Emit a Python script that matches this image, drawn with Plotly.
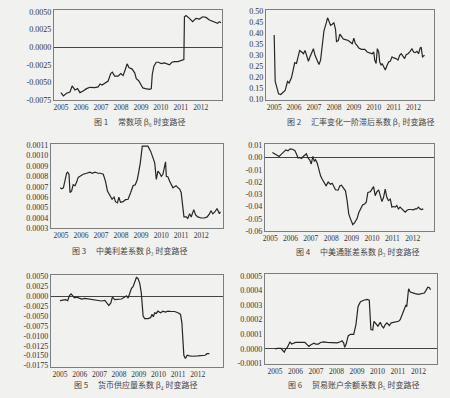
import plotly.graph_objects as go

years = [2005, 2006, 2007, 2008, 2009, 2010, 2011, 2012]
year_labels = [str(y) for y in years]

# Panel 1: constant term beta0
p1_x = [2005.00, 2005.12, 2005.28, 2005.45, 2005.56, 2005.70, 2005.83, 2005.95, 2006.11, 2006.28,
        2006.45, 2006.69, 2006.86, 2006.96, 2007.06, 2007.19, 2007.36, 2007.49, 2007.57, 2007.69,
        2007.86, 2007.99, 2008.11, 2008.22, 2008.31, 2008.41, 2008.55, 2008.69, 2008.77, 2008.89,
        2008.99, 2009.10, 2009.22, 2009.44, 2009.52, 2009.57, 2009.65, 2009.77, 2009.88, 2010.02,
        2010.18, 2010.35, 2010.43, 2010.55, 2010.68, 2010.85, 2011.01, 2011.15, 2011.18, 2011.26,
        2011.43, 2011.59, 2011.76, 2011.93, 2012.09, 2012.26, 2012.43, 2012.67, 2012.84, 2012.92,
        2013.01]
p1_y = [-0.00645, -0.00692, -0.00654, -0.00636, -0.00551, -0.00607, -0.00589, -0.00645, -0.00622, -0.00589,
        -0.00570, -0.00575, -0.00565, -0.00523, -0.00537, -0.00514, -0.00481, -0.00374, -0.00355, -0.00411,
        -0.00411, -0.00374, -0.00402, -0.00318, -0.00238, -0.00294, -0.00308, -0.00364, -0.00449, -0.00477,
        -0.00523, -0.00579, -0.00589, -0.00598, -0.00589, -0.00388, -0.00271, -0.00215, -0.00215, -0.00234,
        -0.00224, -0.00238, -0.00252, -0.00215, -0.00206, -0.00206, -0.00187, -0.00178, 0.00430, 0.00449,
        0.00407, 0.00360, 0.00407, 0.00397, 0.00430, 0.00421, 0.00383, 0.00360, 0.00336, 0.00360,
        0.00346]
p1_ticks = [-0.0075, -0.005, -0.0025, 0.0, 0.0025, 0.005]

# Panel 2: exchange-rate lag coefficient beta1
p2_x = [2005.00, 2005.05, 2005.12, 2005.22, 2005.33, 2005.45, 2005.55, 2005.67, 2005.75, 2005.87,
        2005.97, 2006.03, 2006.12, 2006.22, 2006.28, 2006.38, 2006.47, 2006.55, 2006.63, 2006.72,
        2006.80, 2006.88, 2006.97, 2007.05, 2007.17, 2007.25, 2007.33, 2007.42, 2007.50, 2007.62,
        2007.68, 2007.75, 2007.83, 2007.92, 2008.00, 2008.08, 2008.13, 2008.22, 2008.30, 2008.38,
        2008.47, 2008.58, 2008.72, 2008.83, 2008.92, 2009.00, 2009.08, 2009.17, 2009.25, 2009.38,
        2009.55, 2009.67, 2009.83, 2009.92, 2010.00, 2010.05, 2010.12, 2010.18, 2010.25, 2010.30,
        2010.37, 2010.42, 2010.50, 2010.58, 2010.67, 2010.75, 2010.83, 2010.92, 2011.00, 2011.12,
        2011.22, 2011.30, 2011.38, 2011.47, 2011.55, 2011.63, 2011.72, 2011.83, 2011.92, 2012.00,
        2012.08, 2012.17, 2012.25, 2012.33, 2012.38, 2012.45, 2012.55]
p2_y = [0.392, 0.181, 0.159, 0.125, 0.122, 0.130, 0.140, 0.181, 0.174, 0.199,
        0.241, 0.266, 0.263, 0.300, 0.322, 0.315, 0.307, 0.322, 0.300, 0.273,
        0.293, 0.315, 0.330, 0.300, 0.270, 0.258, 0.278, 0.344, 0.411, 0.448,
        0.470, 0.455, 0.436, 0.441, 0.448, 0.418, 0.362, 0.367, 0.396, 0.386,
        0.374, 0.371, 0.367, 0.359, 0.352, 0.377, 0.352, 0.344, 0.333, 0.327,
        0.327, 0.315, 0.312, 0.307, 0.315, 0.278, 0.263, 0.330, 0.315, 0.270,
        0.255, 0.263, 0.248, 0.233, 0.255, 0.270, 0.273, 0.293, 0.288, 0.285,
        0.278, 0.300, 0.307, 0.293, 0.285, 0.303, 0.307, 0.318, 0.330, 0.315,
        0.312, 0.318, 0.307, 0.333, 0.337, 0.293, 0.300]
p2_ticks = [0.10, 0.15, 0.20, 0.25, 0.30, 0.35, 0.40, 0.45, 0.50]

# Panel 3: interest differential coefficient beta2
p3_x = [2004.96, 2005.03, 2005.12, 2005.20, 2005.28, 2005.33, 2005.40, 2005.45, 2005.53, 2005.61,
        2005.70, 2005.78, 2005.86, 2005.95, 2006.11, 2006.28, 2006.44, 2006.56, 2006.69, 2006.86,
        2006.97, 2007.11, 2007.22, 2007.32, 2007.44, 2007.55, 2007.65, 2007.72, 2007.82, 2007.89,
        2007.97, 2008.10, 2008.22, 2008.35, 2008.48, 2008.60, 2008.71, 2008.81, 2008.88, 2008.96,
        2009.06, 2009.34, 2009.48, 2009.59, 2009.68, 2009.76, 2009.84, 2009.93, 2010.01, 2010.09,
        2010.17, 2010.22, 2010.26, 2010.34, 2010.42, 2010.51, 2010.59, 2010.67, 2010.75, 2010.84,
        2010.92, 2011.00, 2011.09, 2011.14, 2011.25, 2011.33, 2011.42, 2011.50, 2011.63, 2011.72,
        2011.83, 2012.00, 2012.16, 2012.30, 2012.41, 2012.49, 2012.58, 2012.69, 2012.79, 2012.91,
        2012.96]
p3_y = [0.00069, 0.00068, 0.00069, 0.00077, 0.00083, 0.00084, 0.00082, 0.000645, 0.00066, 0.00072,
        0.00071, 0.000745, 0.00079, 0.00080, 0.00082, 0.00083, 0.00084, 0.00083, 0.00084, 0.00083,
        0.00083, 0.00082, 0.000755, 0.00066, 0.00061, 0.00058, 0.00060, 0.000557, 0.000545, 0.00060,
        0.00055, 0.000557, 0.000576, 0.00058, 0.000645, 0.00071, 0.00072, 0.00077, 0.00084, 0.00093,
        0.00109, 0.00109, 0.00104, 0.00097, 0.00093, 0.00077, 0.00085, 0.00083, 0.00080, 0.00082,
        0.00092, 0.00094, 0.00080, 0.000795, 0.000755, 0.00072, 0.00069, 0.00070, 0.00071, 0.00069,
        0.00068, 0.000645, 0.00049, 0.00041, 0.00041, 0.000395, 0.00044, 0.00041, 0.00048, 0.00043,
        0.00041, 0.00040, 0.00040, 0.00041, 0.00044, 0.00047, 0.00044, 0.00046, 0.00049, 0.00044,
        0.00046]
p3_ticks = [0.0003, 0.0004, 0.0005, 0.0006, 0.0007, 0.0008, 0.0009, 0.0010, 0.0011]

# Panel 4: inflation differential coefficient beta3
p4_x = [2005.11, 2005.24, 2005.36, 2005.44, 2005.52, 2005.64, 2005.77, 2005.88, 2005.98, 2006.09,
        2006.21, 2006.29, 2006.37, 2006.45, 2006.55, 2006.63, 2006.71, 2006.78, 2006.86, 2006.94,
        2007.02, 2007.10, 2007.17, 2007.23, 2007.31, 2007.39, 2007.48, 2007.56, 2007.65, 2007.75,
        2007.85, 2007.96, 2008.05, 2008.13, 2008.21, 2008.34, 2008.42, 2008.50, 2008.62, 2008.70,
        2008.78, 2008.86, 2008.94, 2009.06, 2009.15, 2009.27, 2009.35, 2009.43, 2009.54, 2009.64,
        2009.72, 2009.80, 2009.92, 2010.00, 2010.08, 2010.16, 2010.24, 2010.33, 2010.41, 2010.49,
        2010.57, 2010.65, 2010.73, 2010.81, 2010.90, 2010.98, 2011.06, 2011.14, 2011.22, 2011.30,
        2011.38, 2011.47, 2011.55, 2011.63, 2011.71, 2011.79, 2011.92, 2012.04, 2012.12, 2012.20,
        2012.28, 2012.36, 2012.44, 2012.52]
p4_y = [0.0040, 0.0029, 0.0013, 0.0008, 0.0021, 0.0040, 0.0061, 0.0053, 0.0069, 0.0066,
        0.0056, 0.0029, -0.0005, 0.0000, -0.0008, 0.0008, 0.0021, 0.0029, -0.0005, -0.0019,
        -0.0053, 0.0008, -0.0032, -0.0019, -0.0045, -0.0098, -0.0152, -0.0178, -0.0205, -0.0231,
        -0.0200, -0.0218, -0.0210, -0.0245, -0.0263, -0.0266, -0.0231, -0.0226, -0.0253, -0.0271,
        -0.0351, -0.0458, -0.0497, -0.0545, -0.0529, -0.0497, -0.0450, -0.0418, -0.0386, -0.0378,
        -0.0364, -0.0285, -0.0279, -0.0258, -0.0237, -0.0311, -0.0279, -0.0263, -0.0311, -0.0359,
        -0.0324, -0.0258, -0.0324, -0.0351, -0.0338, -0.0404, -0.0399, -0.0404, -0.0391, -0.0418,
        -0.0404, -0.0418, -0.0431, -0.0444, -0.0431, -0.0423, -0.0423, -0.0426, -0.0418, -0.0418,
        -0.0404, -0.0418, -0.0423, -0.0418]
p4_ticks = [-0.06, -0.05, -0.04, -0.03, -0.02, -0.01, 0.00, 0.01]

# Panel 5: money supply coefficient beta4
p5_x = [2005.00, 2005.17, 2005.29, 2005.39, 2005.47, 2005.56, 2005.64, 2005.73, 2005.84, 2005.96,
        2006.10, 2006.26, 2006.43, 2006.60, 2006.77, 2006.94, 2007.11, 2007.28, 2007.38, 2007.48,
        2007.58, 2007.66, 2007.78, 2007.95, 2008.12, 2008.29, 2008.37, 2008.46, 2008.54, 2008.63,
        2008.71, 2008.79, 2008.88, 2008.96, 2009.05, 2009.13, 2009.22, 2009.30, 2009.47, 2009.60,
        2009.67, 2009.74, 2009.81, 2009.89, 2009.97, 2010.11, 2010.23, 2010.35, 2010.48, 2010.65,
        2010.82, 2010.99, 2011.12, 2011.19, 2011.29, 2011.37, 2011.46, 2011.58, 2011.75, 2012.00,
        2012.25, 2012.37, 2012.47, 2012.59]
p5_y = [-0.00108, -0.00099, -0.00083, -0.00108, 0.00017, 0.00066, 0.00017, -0.00033, -0.00017, -0.00041,
        -0.00066, -0.00050, -0.00066, -0.00083, -0.00099, -0.00108, -0.00116, -0.00099, -0.00166, -0.00232,
        -0.00166, -0.00017, -0.00083, -0.00066, -0.00066, -0.00017, 0.00017, -0.00041, 0.00083, 0.00207,
        0.00248, 0.00373, 0.00480, 0.00455, 0.00331, 0.00083, -0.00497, -0.00563, -0.00563, -0.00538,
        -0.00455, -0.00513, -0.00414, -0.00431, -0.00373, -0.00414, -0.00373, -0.00397, -0.00373, -0.00381,
        -0.00381, -0.00414, -0.00455, -0.00662, -0.01490, -0.01573, -0.01490, -0.01507, -0.01515, -0.01507,
        -0.01507, -0.01490, -0.01449, -0.01449]
p5_ticks = [-0.0175, -0.015, -0.0125, -0.01, -0.0075, -0.005, -0.0025, 0.0, 0.0025, 0.005]

# Panel 6: trade balance coefficient beta5
p6_x = [2005.00, 2005.11, 2005.28, 2005.39, 2005.45, 2005.52, 2005.60, 2005.68, 2005.73, 2005.81,
        2005.89, 2006.00, 2006.17, 2006.33, 2006.46, 2006.54, 2006.65, 2006.73, 2006.82, 2006.90,
        2006.98, 2007.11, 2007.22, 2007.38, 2007.54, 2007.71, 2007.87, 2008.03, 2008.19, 2008.27,
        2008.35, 2008.40, 2008.47, 2008.57, 2008.68, 2008.84, 2008.95, 2009.05, 2009.17, 2009.33,
        2009.49, 2009.60, 2009.68, 2009.77, 2009.83, 2009.93, 2010.02, 2010.14, 2010.22, 2010.30,
        2010.38, 2010.46, 2010.58, 2010.67, 2010.79, 2010.90, 2011.03, 2011.11, 2011.19, 2011.30,
        2011.39, 2011.43, 2011.52, 2011.60, 2011.71, 2011.84, 2012.00, 2012.16, 2012.29, 2012.37,
        2012.46, 2012.54, 2012.59]
p6_y = [0.0000000, 0.0000044, 0.0000044, -0.0000111, -0.0000222, 0.0000000, 0.0000111, 0.0000333, 0.0000489, 0.0000333,
        0.0000378, 0.0000444, 0.0000444, 0.0000444, 0.0000444, 0.0000333, 0.0000178, 0.0000267, 0.0000333, 0.0000400,
        0.0000333, 0.0000333, 0.0000444, 0.0000489, 0.0000444, 0.0000444, 0.0000444, 0.0000422, 0.0000489, 0.0000556,
        0.0000400, 0.0000111, 0.0000333, 0.0000889, 0.0001000, 0.0001000, 0.0001667, 0.0002890, 0.0003220, 0.0003330,
        0.0003380, 0.0003330, 0.0001330, 0.0001290, 0.0001890, 0.0001670, 0.0001560, 0.0001820, 0.0001560, 0.0001440,
        0.0001670, 0.0001780, 0.0001600, 0.0001780, 0.0001820, 0.0001820, 0.0001890, 0.0002000, 0.0002330, 0.0002670,
        0.0003000, 0.0002890, 0.0004110, 0.0003890, 0.0003820, 0.0003780, 0.0003730, 0.0003780, 0.0003820, 0.0004000,
        0.0004220, 0.0004180, 0.0004040]
p6_ticks = [-0.0001, 0.0, 0.0001, 0.0002, 0.0003, 0.0004, 0.0005]

captions = [
    "图 1　 常数项 β₀ 时变路径",
    "图 2　 汇率变化一阶滞后系数 β₁ 时变路径",
    "图 3　 中美利差系数 β₂ 时变路径",
    "图 4　 中美通胀差系数 β₃ 时变路径",
    "图 5　 货币供应量系数 β₄ 时变路径",
    "图 6　 贸易账户余额系数 β₅ 时变路径",
]

W, H = 450, 398
# layout geometry (pixels): box left, right, top, bottom ; x-range ; y-range ; tick decimals ; caption center
panels = [
    dict(x=p1_x, y=p1_y, ticks=p1_ticks, dec=4, box=(52, 221, 7, 99), xr=(2004.64, 2013.06), yr=(-0.0075, 0.00528), cap=(138, 121)),
    dict(x=p2_x, y=p2_y, ticks=p2_ticks, dec=2, box=(265, 434, 7, 99), xr=(2004.58, 2013.03), yr=(0.097, 0.506), cap=(360, 121)),
    dict(x=p3_x, y=p3_y, ticks=p3_ticks, dec=4, box=(49, 222, 144, 230), xr=(2004.49, 2013.09), yr=(0.0003, 0.00111), cap=(128, 253)),
    dict(x=p4_x, y=p4_y, ticks=p4_ticks, dec=2, box=(264, 434, 144, 233), xr=(2004.74, 2013.05), yr=(-0.06, 0.0108), cap=(357, 254)),
    dict(x=p5_x, y=p5_y, ticks=p5_ticks, dec=4, box=(49, 222, 278, 371), xr=(2004.53, 2013.28), yr=(-0.01775, 0.00532), cap=(134, 389)),
    dict(x=p6_x, y=p6_y, ticks=p6_ticks, dec=4, box=(264, 437, 277, 368), xr=(2004.50, 2012.91), yr=(-0.0001, 0.000509), cap=(353, 389)),
]

BG = "#f1f1ef"
LINE = "#262626"
FRAME = "#7d7d7d"
TXT = "#333333"
SERIF = "Liberation Serif, Times New Roman, serif"
CJK = "Noto Sans CJK SC"

fig = go.Figure()
layout = dict(
    width=W, height=H, autosize=False,
    margin=dict(l=0, r=0, t=0, b=0),
    paper_bgcolor=BG, plot_bgcolor=BG,
    showlegend=False, hovermode=False,
    annotations=[],
)

for i, p in enumerate(panels, start=1):
    sfx = "" if i == 1 else str(i)
    l, r, t, b = p["box"]
    xd = [l / W, r / W]
    yd = [1 - b / H, 1 - t / H]
    fig.add_trace(go.Scatter(
        x=p["x"], y=p["y"], mode="lines",
        line=dict(color=LINE, width=1.2),
        xaxis="x" + sfx, yaxis="y" + sfx, hoverinfo="skip",
    ))
    layout["xaxis" + sfx] = dict(
        domain=xd, range=list(p["xr"]), anchor="y" + sfx,
        tickvals=years, ticktext=year_labels,
        showgrid=False, zeroline=False,
        showline=True, linecolor=FRAME, linewidth=1, mirror=True,
        ticks="", tickfont=dict(family=SERIF, size=7.5, color=TXT),
    )
    fmt = "{:.%df}" % p["dec"]
    layout["yaxis" + sfx] = dict(
        domain=yd, range=list(p["yr"]), anchor="x" + sfx,
        tickvals=p["ticks"], ticktext=[fmt.format(v) for v in p["ticks"]],
        showgrid=False,
        zeroline=True, zerolinecolor="#444444", zerolinewidth=1,
        showline=True, linecolor=FRAME, linewidth=1, mirror=True,
        ticks="", tickfont=dict(family=SERIF, size=8, color=TXT),
    )
    cx, cy = p["cap"]
    layout["annotations"].append(dict(
        text=captions[i - 1], xref="paper", yref="paper",
        x=cx / W, y=1 - cy / H, xanchor="center", yanchor="middle",
        showarrow=False, font=dict(family=CJK, size=8, color="#444444"),
    ))

fig.update_layout(**layout)
fig.write_html("out.html", config={"displayModeBar": False, "staticPlot": True},
               post_script="document.body.style.margin='0';")
